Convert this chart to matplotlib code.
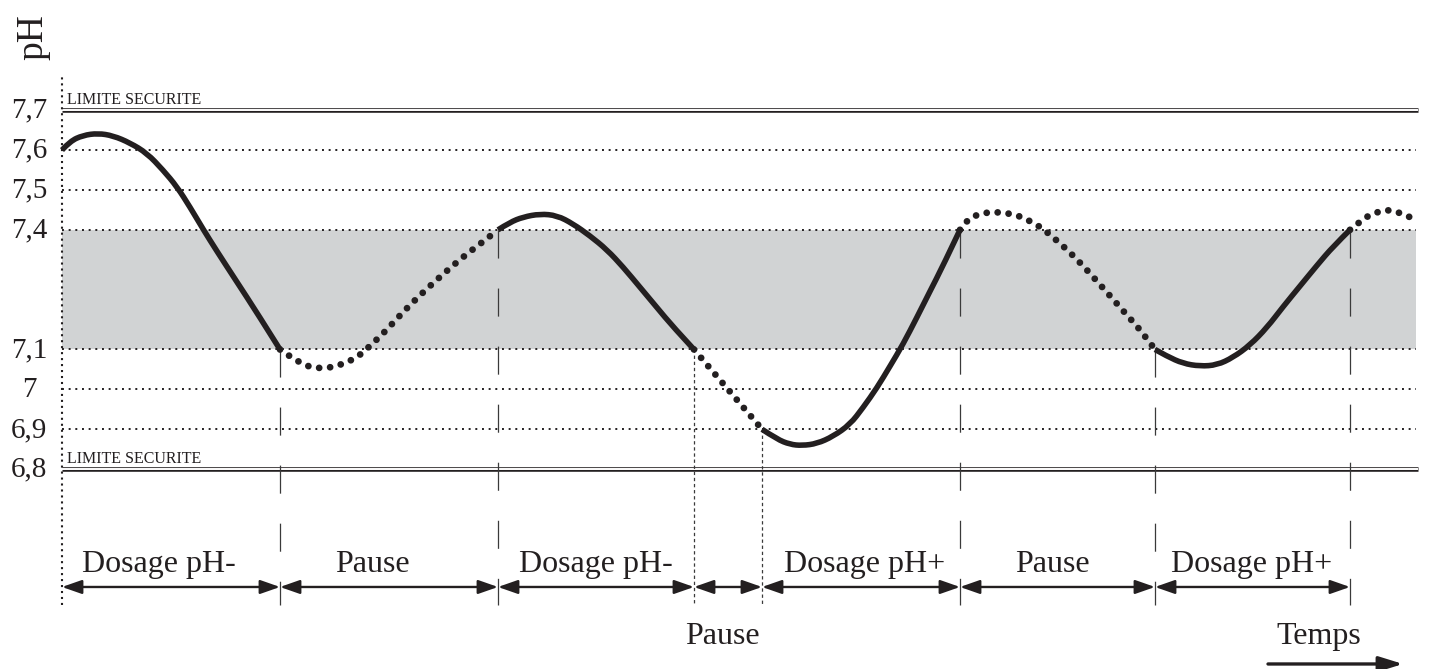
import matplotlib
matplotlib.use("Agg")
import matplotlib.pyplot as plt
from matplotlib.path import Path
from matplotlib.patches import PathPatch

# ---------------- data ----------------
grid_levels = [7.6, 7.5, 7.4, 7.1, 7.0, 6.9]          # dotted reference levels
limit_levels = [7.7, 6.8]                              # "LIMITE SECURITE" double lines
limit_label = "LIMITE SECURITE"
tick_values = [7.7, 7.6, 7.5, 7.4, 7.1, 7.0, 6.9, 6.8]
tick_labels = ["7,7", "7,6", "7,5", "7,4", "7,1", "7", "6,9", "6,8"]
target_low, target_high = 7.1, 7.4

phase_bounds = [0, 218, 436, 632, 700, 898, 1093, 1288]
phase_labels = ["Dosage pH-", "Pause", "Dosage pH-", "Pause",
                "Dosage pH+", "Pause", "Dosage pH+"]

seg1_t = [0, 8, 21, 36, 51, 68, 85, 101, 115, 128, 141, 155, 175, 195, 218]
seg1_ph = [7.6, 7.622, 7.637, 7.642, 7.636, 7.618, 7.592, 7.55, 7.508, 7.457,
           7.402, 7.346, 7.269, 7.192, 7.1]
seg2_t = [218, 239, 259, 280, 297, 305, 322, 337, 353, 370, 387, 404, 422, 436]
seg2_ph = [7.1, 7.062, 7.051, 7.061, 7.084, 7.102, 7.142, 7.183, 7.224, 7.264,
           7.302, 7.338, 7.372, 7.4]
seg3_t = [436, 448, 461, 478, 495, 511, 528, 545, 561, 578, 595, 611, 632]
seg3_ph = [7.4, 7.419, 7.432, 7.44, 7.436, 7.415, 7.385, 7.35, 7.307, 7.256,
           7.205, 7.157, 7.1]
seg4_t = [632, 666, 700]
seg4_ph = [7.1, 7.0, 6.9]
seg5_t = [700, 715, 728, 740, 755, 771, 788, 801, 815, 828, 841, 855, 868, 881, 898]
seg5_ph = [6.9, 6.875, 6.862, 6.859, 6.864, 6.882, 6.912, 6.954, 7.004, 7.058,
           7.113, 7.181, 7.246, 7.31, 7.4]
seg6_t = [898, 905, 915, 926, 938, 949, 960, 970, 979, 987, 1004, 1020, 1035,
          1050, 1065, 1080, 1093]
seg6_ph = [7.4, 7.425, 7.438, 7.444, 7.444, 7.44, 7.432, 7.419, 7.406, 7.39,
           7.353, 7.313, 7.271, 7.229, 7.186, 7.144, 7.1]
seg7_t = [1093, 1105, 1121, 1138, 1155, 1171, 1188, 1205, 1221, 1238, 1255, 1271, 1288]
seg7_ph = [7.1, 7.083, 7.065, 7.058, 7.061, 7.08, 7.111, 7.155, 7.207, 7.259,
           7.311, 7.358, 7.4]
seg8_t = [1288, 1296, 1305, 1315, 1325, 1336, 1347, 1356]
seg8_ph = [7.4, 7.416, 7.434, 7.444, 7.451, 7.444, 7.434, 7.421]

segments = [(seg1_t, seg1_ph, "solid"), (seg2_t, seg2_ph, "dotted"),
            (seg3_t, seg3_ph, "solid"), (seg4_t, seg4_ph, "dotted"),
            (seg5_t, seg5_ph, "solid"), (seg6_t, seg6_ph, "dotted"),
            (seg7_t, seg7_ph, "solid"), (seg8_t, seg8_ph, "dotted")]

# ---------------- layout / style ----------------
INK = "#231f20"
BAND = "#d1d3d4"
X_END = 1354
AXIS_TOP = 7.79
GUIDE_BOTTOM = 6.459
ARROW_Y = 0.1226       # axes fraction
LABEL_Y = 0.1455
LOW_LABEL_Y = 0.037
TEMPS_ARROW_Y = 0.0075
LABEL_X = [97, 310, 534, 660, 803, 990, 1190]
FINE_GUIDES = {632, 700}

plt.rcParams['font.family'] = ['Liberation Serif', 'DejaVu Serif']
plt.rcParams['lines.scale_dashes'] = False

fig = plt.figure(figsize=(14.29, 6.69), dpi=100)
ax = fig.add_axes([0, 0, 1, 1])
ax.set_xlim(-62, 1367)
ax.set_ylim(6.2988, 7.9763)
ax.axis('off')


def smooth_path(t, p):
    """Quadratic Bezier path using the read points as control points."""
    pts = list(zip(t, p))
    if len(pts) < 3:
        return Path(pts)
    verts = [pts[0]]
    codes = [Path.MOVETO]
    for i in range(1, len(pts) - 1):
        c = pts[i]
        if i < len(pts) - 2:
            e = ((pts[i][0] + pts[i + 1][0]) / 2, (pts[i][1] + pts[i + 1][1]) / 2)
        else:
            e = pts[-1]
        verts += [c, e]
        codes += [Path.CURVE3, Path.CURVE3]
    return Path(verts, codes)


# target band
ax.fill_between([0, X_END], target_low, target_high, color=BAND, lw=0, zorder=1)

# dotted grid levels
for lv in grid_levels:
    ax.plot([0, X_END], [lv, lv], color=INK, lw=1.4, linestyle=(0, (1.4, 3.4)),
            zorder=2)

# double safety lines
for lv in limit_levels:
    ax.plot([0, X_END + 2], [lv, lv], color=INK, lw=3.3, solid_capstyle='butt', zorder=2)
    ax.plot([0, X_END + 2], [lv, lv], color='white', lw=1.4, solid_capstyle='butt', zorder=2.1)
    ax.annotate(limit_label, xy=(5, lv), xytext=(0, 4.7), textcoords='offset points',
                ha='left', va='baseline', fontsize=11.5, color=INK)

# left dotted axis
ax.plot([0, 0], [GUIDE_BOTTOM, AXIS_TOP], color=INK, lw=1.5, linestyle=(0, (1.5, 2.8)),
        zorder=3)

# tick labels
for v, lab in zip(tick_values, tick_labels):
    ax.annotate(lab, xy=(-33, v), xytext=(0, -5.5), textcoords='offset points',
                ha='center', va='baseline', fontsize=21, color=INK)

ax.text(-29, 7.8835, "pH", rotation=90, ha='center', va='center', fontsize=27, color=INK)

# guide lines at phase boundaries
for i, b in enumerate(phase_bounds[1:]):
    start = segments[i][1][-1]
    if b in FINE_GUIDES:
        ls = (0, (2.4, 2.0))
    else:
        ls = (0, (20.2, 21.6))
    ax.plot([b, b], [start, GUIDE_BOTTOM], color='#3a3a3a', lw=0.9, linestyle=ls, zorder=3)

# pH curve
for t, p, style in segments:
    path = smooth_path(t, p)
    if style == "solid":
        patch = PathPatch(path, fill=False, edgecolor=INK, lw=4.0, capstyle='butt',
                          joinstyle='round', zorder=5)
    else:
        patch = PathPatch(path, fill=False, edgecolor=INK, lw=4.9,
                          linestyle=(0, (0.01, 7.9)), capstyle='round', zorder=5)
    ax.add_patch(patch)

# phase arrows and labels
trans = ax.get_xaxis_transform()
for i, lab in enumerate(phase_labels):
    a, b = phase_bounds[i], phase_bounds[i + 1]
    ax.annotate('', xy=(b, ARROW_Y), xytext=(a, ARROW_Y), xycoords=trans, textcoords=trans,
                arrowprops=dict(arrowstyle='<|-|>,head_length=1.2,head_width=0.42',
                                mutation_scale=10, lw=1.7, color=INK,
                                shrinkA=0, shrinkB=0))
    y = LABEL_Y if (b - a) > 100 else LOW_LABEL_Y
    ax.text(LABEL_X[i], y, lab, transform=trans, ha='center', va='baseline',
            fontsize=23, color=INK)

# time arrow
ax.text(1257, LOW_LABEL_Y, "Temps", transform=trans, ha='center', va='baseline',
        fontsize=23, color=INK)
ax.annotate('', xy=(1341, TEMPS_ARROW_Y), xytext=(1206, TEMPS_ARROW_Y),
            xycoords=trans, textcoords=trans,
            arrowprops=dict(arrowstyle='-|>,head_length=1.45,head_width=0.45',
                            mutation_scale=10, lw=2.4, color=INK,
                            shrinkA=0, shrinkB=0))

fig.savefig("out.png", dpi=100)
